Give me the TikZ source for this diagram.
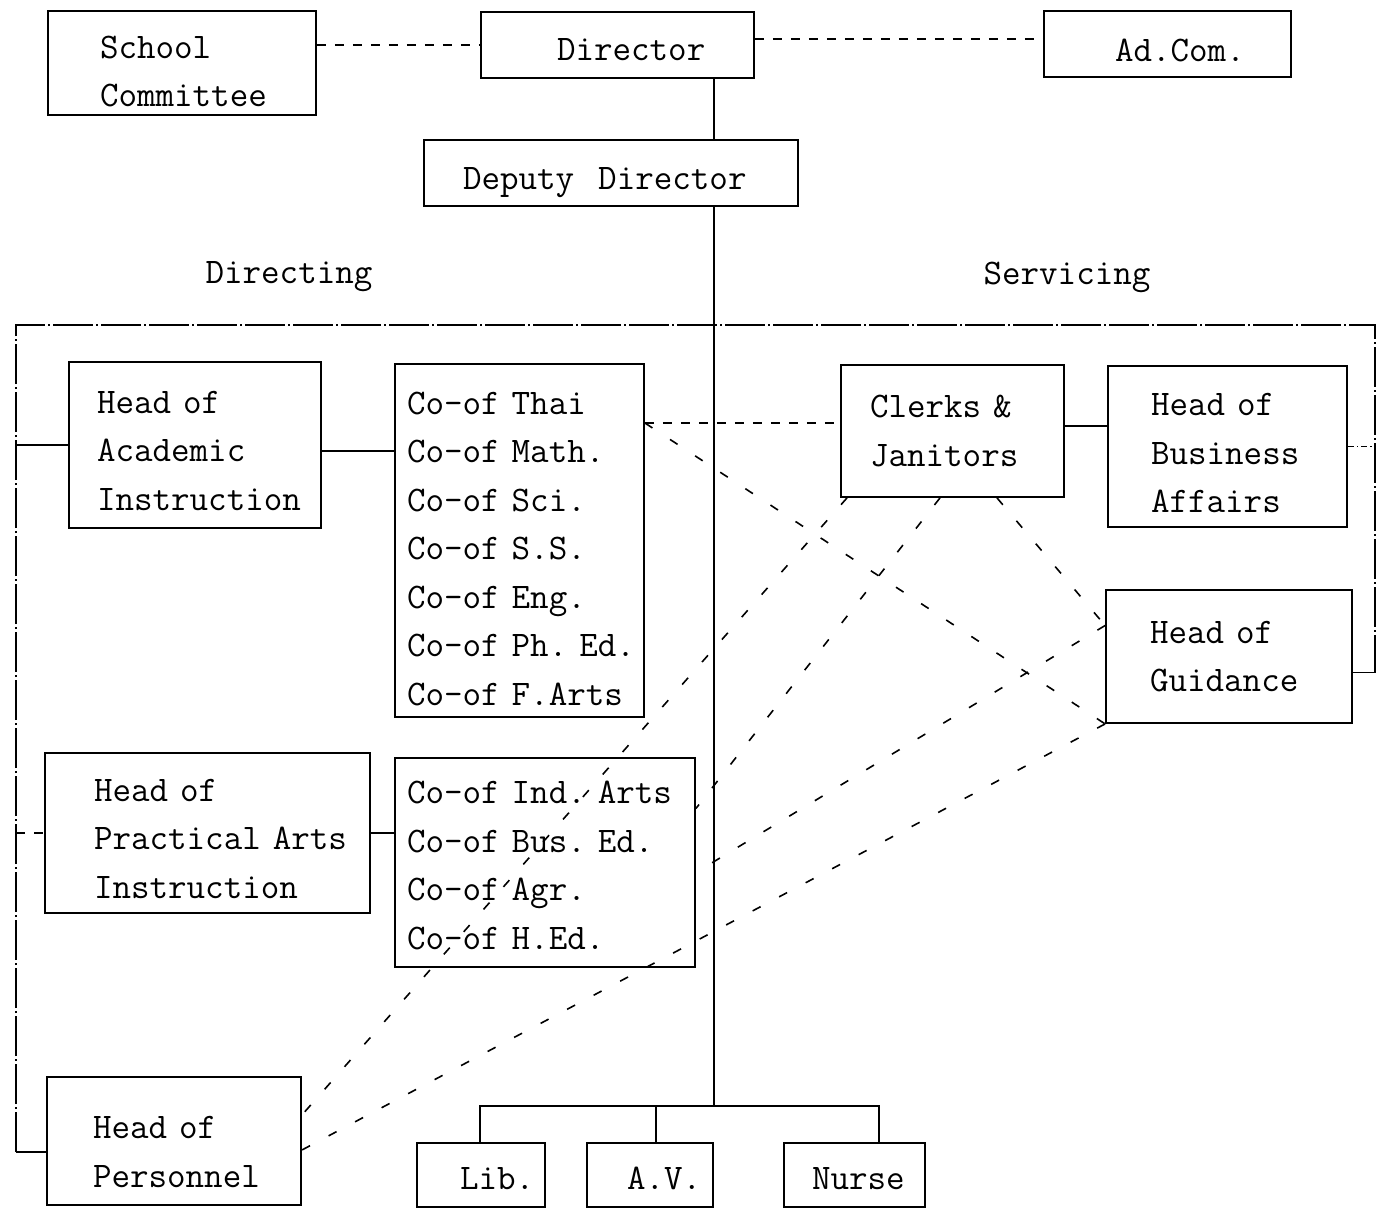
\documentclass[tikz,border=0pt]{standalone}
\usepackage{fontspec}
\setlength{\parindent}{0pt}
\hfuzz=500pt
\hbadness=10000
% invisible strut that sets the height of a box's first line
\newcommand\lift[1]{\rule{0pt}{#1pt}}
\begin{document}
\begin{tikzpicture}[x=1pt,y=-1pt,
  every node/.style={font=\fontsize{36}{48.5}\selectfont\ttfamily\addfontfeatures{FakeBold=0.5}},
  box/.style={draw, line width=1.8pt, inner sep=0pt, align=left},
  solidline/.style={line width=1.6pt},
  topdash/.style={line width=1.5pt, dash pattern=on 9pt off 9pt},
  diag/.style={line width=1.6pt, dash pattern=on 9pt off 21pt},
  frame/.style={line width=1.4pt, dash pattern=on 40pt off 3pt on 2pt off 3pt},
  dotline/.style={line width=1.4pt, dash pattern=on 6pt off 3pt on 1.5pt off 3pt}]
\useasboundingbox (0,0) rectangle (1380,1210);

% top row
\node[box, minimum width=268pt, minimum height=104pt, text width=164pt] (sc) at (182,63) {\lift{39}School\\Committee};
\node[box, minimum width=273pt, minimum height=66pt, text width=121pt] (dir) at (617.5,45) {\lift{32}Director};
\node[box, minimum width=247pt, minimum height=66pt, text width=105pt] (adcom) at (1167.5,44) {\lift{36}Ad.Com.};
\node[box, minimum width=374pt, minimum height=66pt, text width=296pt] (dep) at (611,173) {\lift{42}Deputy~~Director};

% labels
\node[anchor=base] (dlabel) at (289,283) {Directing};
\node[anchor=base] (slabel) at (1067,284) {Servicing};

% directing side
\node[box, minimum width=252pt, minimum height=166pt, text width=196pt] (acad) at (195,445) {\lift{34}Head~of\\Academic\\Instruction};
\node[box, minimum width=249pt, minimum height=353pt, text width=225pt] (co1) at (519.5,540.5)
  {\lift{39}Co-of~Thai\\Co-of~Math.\\Co-of~Sci.\\Co-of~S.S.\\Co-of~Eng.\\Co-of~Ph.~Ed.\\Co-of~F.Arts};
\node[box, minimum width=325pt, minimum height=160pt, text width=227pt] (prac) at (207.5,833) {\lift{34}Head~of\\Practical~Arts\\Instruction};
\node[box, minimum width=300pt, minimum height=209pt, text width=276pt] (co2) at (545,862.5)
  {\lift{28}Co-of~Ind.~Arts\\Co-of~Bus.~Ed.\\Co-of~Agr.\\Co-of~H.Ed.};
\node[box, minimum width=254pt, minimum height=128pt, text width=162pt] (pers) at (174,1141) {\lift{44}Head~of\\Personnel};

% servicing side
\node[box, minimum width=223pt, minimum height=132pt, text width=165pt] (clerks) at (952.5,431) {Clerks~\&\\Janitors};
\node[box, minimum width=239pt, minimum height=161pt, text width=153pt] (bus) at (1227.5,446.5) {\lift{36}Head~of\\Business\\Affairs};
\node[box, minimum width=246pt, minimum height=133pt, text width=158pt] (guid) at (1229,656.5) {Head~of\\Guidance};

% bottom row
\node[box, minimum width=128pt, minimum height=64pt, text width=42pt] (lib) at (481,1175) {\lift{30}Lib.};
\node[box, minimum width=126pt, minimum height=64pt, text width=46pt] (av) at (650,1175) {\lift{30}A.V.};
\node[box, minimum width=141pt, minimum height=64pt, text width=85pt] (nurse) at (854.5,1175) {\lift{30}Nurse};

% line of command
\coordinate (sp) at (714,0);
\draw[topdash] (dir.west -| sc.east) -- (dir.west);
\draw[topdash] ([yshift=6pt]dir.east) -- ([yshift=6pt]dir.east -| adcom.west);
\draw[solidline] (dir.south -| sp) -- (dep.north -| sp);
\coordinate (barL) at (480,1106);
\coordinate (barA) at (656,1106);
\coordinate (barR) at (879,1106);
\draw[solidline] (dep.south -| sp) -- (sp |- barL);
\draw[solidline] (barL |- lib.north) -- (barL) -- (barR) -- (barR |- nurse.north);
\draw[solidline] (barA) -- (barA |- av.north);

% enclosing frame
\coordinate (fTL) at (16,325);
\coordinate (fTR) at (1375,325);
\coordinate (pstub) at ([yshift=-11pt]pers.west);
\coordinate (gstub) at ([yshift=-16pt]guid.east);
\draw[frame] (pstub -| fTL) -- (fTL) -- (fTR) -- (gstub -| fTR);
\draw[solidline] (pstub -| fTL) -- (pstub);
\draw[solidline] (acad.west -| fTL) -- (acad.west);
\draw[topdash] (prac.west -| fTL) -- (prac.west);
\draw[dotline] (bus.east) -- (bus.east -| fTR);
\draw[solidline] (gstub) -- (gstub -| fTR);

% heads to their coordinators
\draw[solidline] ([yshift=-6pt]acad.east) -- ([yshift=-6pt]acad.east -| co1.west);
\draw[solidline] (prac.east) -- (prac.east -| co2.west);
\draw[solidline] ([yshift=5pt]clerks.east) -- ([yshift=5pt]clerks.east -| bus.west);

% service links
\coordinate (cl) at ([yshift=8pt]clerks.west);
\coordinate (th) at (cl -| co1.east);
\coordinate (c1) at ([xshift=-105.5pt]clerks.south);
\coordinate (c2) at ([xshift=-12.5pt]clerks.south);
\coordinate (c3) at ([xshift=44.5pt]clerks.south);
\coordinate (gw) at ([yshift=31pt]guid.west);
\draw[topdash] (th) -- (cl);
\draw[diag] (th) -- (guid.south west);
\draw[diag] (c3) -- (gw);
\draw[diag] (gw) -- ([yshift=-10pt]co2.east);
\draw[diag] (c1) -- ([yshift=26pt]pers.east);
\draw[diag] (c2) -- ([yshift=54pt]co2.east);
\draw[diag] (guid.south west) -- ([yshift=-9pt]pers.east);
\end{tikzpicture}
\end{document}
